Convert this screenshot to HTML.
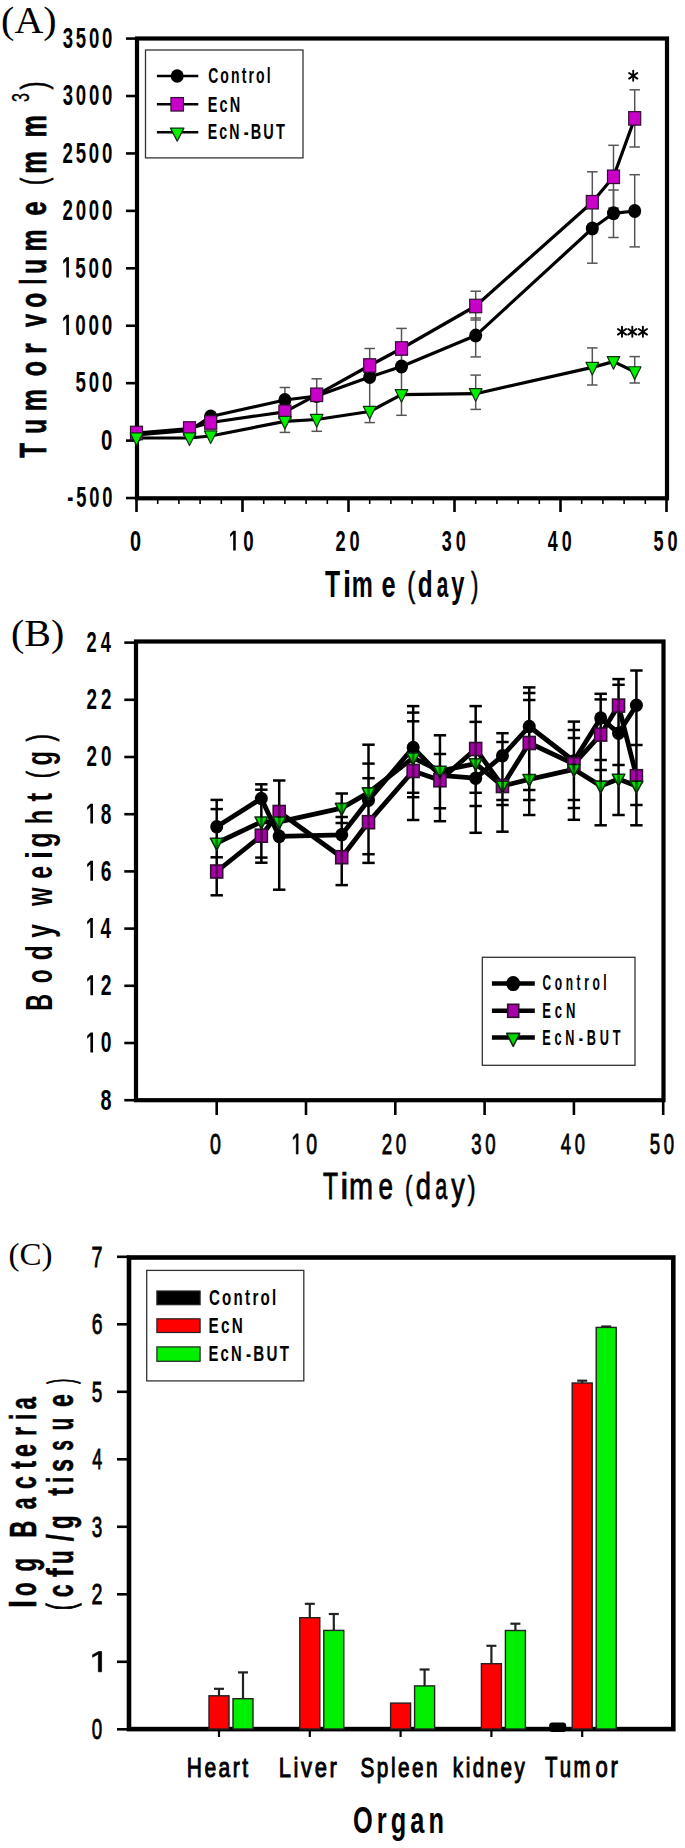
<!DOCTYPE html><html><head><meta charset="utf-8"><style>html,body{margin:0;padding:0;background:#fff;}svg{display:block;}text{font-kerning:none;}</style></head><body>
<svg width="685" height="1848" viewBox="0 0 685 1848">
<rect width="685" height="1848" fill="#fff"/>
<rect x="137" y="38.5" width="530" height="459.8" fill="none" stroke="#000" stroke-width="4.2"/>
<line x1="126.00" y1="498.03" x2="137.00" y2="498.03" stroke="#000" stroke-width="2.60" stroke-linecap="butt"/>
<text transform="translate(67.37 507.23) scale(0.6238 1)" style='font-family:"Liberation Sans", sans-serif;font-weight:bold;font-size:29.42px;letter-spacing:4.41px' fill="#000">-500</text>
<line x1="126.00" y1="440.60" x2="137.00" y2="440.60" stroke="#000" stroke-width="2.60" stroke-linecap="butt"/>
<text transform="translate(101.08 449.80) scale(0.6941 1)" style='font-family:"Liberation Sans", sans-serif;font-weight:bold;font-size:29.42px;letter-spacing:4.41px' fill="#000">0</text>
<line x1="126.00" y1="383.17" x2="137.00" y2="383.17" stroke="#000" stroke-width="2.60" stroke-linecap="butt"/>
<text transform="translate(75.54 392.37) scale(0.6360 1)" style='font-family:"Liberation Sans", sans-serif;font-weight:bold;font-size:29.42px;letter-spacing:4.41px' fill="#000">500</text>
<line x1="126.00" y1="325.74" x2="137.00" y2="325.74" stroke="#000" stroke-width="2.60" stroke-linecap="butt"/>
<g transform="translate(61.91 334.94) scale(0.6413 1)" fill="#000"><text style='font-family:"Liberation Sans", sans-serif;font-weight:bold;font-size:29.42px;letter-spacing:4.41px'> 000</text><path transform="translate(0.000 0) scale(0.01437 -0.01437)" d="M478 0V1170L140 959V1180L493 1409H759V0Z"/></g>
<line x1="126.00" y1="268.31" x2="137.00" y2="268.31" stroke="#000" stroke-width="2.60" stroke-linecap="butt"/>
<g transform="translate(61.91 277.51) scale(0.6413 1)" fill="#000"><text style='font-family:"Liberation Sans", sans-serif;font-weight:bold;font-size:29.42px;letter-spacing:4.41px'> 500</text><path transform="translate(0.000 0) scale(0.01437 -0.01437)" d="M478 0V1170L140 959V1180L493 1409H759V0Z"/></g>
<line x1="126.00" y1="210.88" x2="137.00" y2="210.88" stroke="#000" stroke-width="2.60" stroke-linecap="butt"/>
<text transform="translate(62.55 220.08) scale(0.6331 1)" style='font-family:"Liberation Sans", sans-serif;font-weight:bold;font-size:29.42px;letter-spacing:4.41px' fill="#000">2000</text>
<line x1="126.00" y1="153.45" x2="137.00" y2="153.45" stroke="#000" stroke-width="2.60" stroke-linecap="butt"/>
<text transform="translate(62.55 162.65) scale(0.6331 1)" style='font-family:"Liberation Sans", sans-serif;font-weight:bold;font-size:29.42px;letter-spacing:4.41px' fill="#000">2500</text>
<line x1="126.00" y1="96.02" x2="137.00" y2="96.02" stroke="#000" stroke-width="2.60" stroke-linecap="butt"/>
<text transform="translate(62.74 105.22) scale(0.6307 1)" style='font-family:"Liberation Sans", sans-serif;font-weight:bold;font-size:29.42px;letter-spacing:4.41px' fill="#000">3000</text>
<line x1="126.00" y1="38.59" x2="137.00" y2="38.59" stroke="#000" stroke-width="2.60" stroke-linecap="butt"/>
<text transform="translate(62.74 47.79) scale(0.6307 1)" style='font-family:"Liberation Sans", sans-serif;font-weight:bold;font-size:29.42px;letter-spacing:4.41px' fill="#000">3500</text>
<line x1="136.50" y1="498.00" x2="136.50" y2="512.00" stroke="#000" stroke-width="2.60" stroke-linecap="butt"/>
<line x1="157.70" y1="498.00" x2="157.70" y2="504.00" stroke="#000" stroke-width="1.60" stroke-linecap="butt"/>
<line x1="178.90" y1="498.00" x2="178.90" y2="504.00" stroke="#000" stroke-width="1.60" stroke-linecap="butt"/>
<line x1="200.10" y1="498.00" x2="200.10" y2="504.00" stroke="#000" stroke-width="1.60" stroke-linecap="butt"/>
<line x1="221.30" y1="498.00" x2="221.30" y2="504.00" stroke="#000" stroke-width="1.60" stroke-linecap="butt"/>
<line x1="242.50" y1="498.00" x2="242.50" y2="512.00" stroke="#000" stroke-width="2.60" stroke-linecap="butt"/>
<line x1="263.70" y1="498.00" x2="263.70" y2="504.00" stroke="#000" stroke-width="1.60" stroke-linecap="butt"/>
<line x1="284.90" y1="498.00" x2="284.90" y2="504.00" stroke="#000" stroke-width="1.60" stroke-linecap="butt"/>
<line x1="306.10" y1="498.00" x2="306.10" y2="504.00" stroke="#000" stroke-width="1.60" stroke-linecap="butt"/>
<line x1="327.30" y1="498.00" x2="327.30" y2="504.00" stroke="#000" stroke-width="1.60" stroke-linecap="butt"/>
<line x1="348.50" y1="498.00" x2="348.50" y2="512.00" stroke="#000" stroke-width="2.60" stroke-linecap="butt"/>
<line x1="369.70" y1="498.00" x2="369.70" y2="504.00" stroke="#000" stroke-width="1.60" stroke-linecap="butt"/>
<line x1="390.90" y1="498.00" x2="390.90" y2="504.00" stroke="#000" stroke-width="1.60" stroke-linecap="butt"/>
<line x1="412.10" y1="498.00" x2="412.10" y2="504.00" stroke="#000" stroke-width="1.60" stroke-linecap="butt"/>
<line x1="433.30" y1="498.00" x2="433.30" y2="504.00" stroke="#000" stroke-width="1.60" stroke-linecap="butt"/>
<line x1="454.50" y1="498.00" x2="454.50" y2="512.00" stroke="#000" stroke-width="2.60" stroke-linecap="butt"/>
<line x1="475.70" y1="498.00" x2="475.70" y2="504.00" stroke="#000" stroke-width="1.60" stroke-linecap="butt"/>
<line x1="496.90" y1="498.00" x2="496.90" y2="504.00" stroke="#000" stroke-width="1.60" stroke-linecap="butt"/>
<line x1="518.10" y1="498.00" x2="518.10" y2="504.00" stroke="#000" stroke-width="1.60" stroke-linecap="butt"/>
<line x1="539.30" y1="498.00" x2="539.30" y2="504.00" stroke="#000" stroke-width="1.60" stroke-linecap="butt"/>
<line x1="560.50" y1="498.00" x2="560.50" y2="512.00" stroke="#000" stroke-width="2.60" stroke-linecap="butt"/>
<line x1="581.70" y1="498.00" x2="581.70" y2="504.00" stroke="#000" stroke-width="1.60" stroke-linecap="butt"/>
<line x1="602.90" y1="498.00" x2="602.90" y2="504.00" stroke="#000" stroke-width="1.60" stroke-linecap="butt"/>
<line x1="624.10" y1="498.00" x2="624.10" y2="504.00" stroke="#000" stroke-width="1.60" stroke-linecap="butt"/>
<line x1="645.30" y1="498.00" x2="645.30" y2="504.00" stroke="#000" stroke-width="1.60" stroke-linecap="butt"/>
<line x1="666.50" y1="498.00" x2="666.50" y2="512.00" stroke="#000" stroke-width="2.60" stroke-linecap="butt"/>
<text transform="translate(130.01 550.60) scale(0.6827 1)" style='font-family:"Liberation Sans", sans-serif;font-weight:bold;font-size:28.99px;letter-spacing:6.38px' fill="#000">0</text>
<g transform="translate(228.83 550.60) scale(0.6433 1)" fill="#000"><text style='font-family:"Liberation Sans", sans-serif;font-weight:bold;font-size:28.99px;letter-spacing:6.38px'> 0</text><path transform="translate(0.000 0) scale(0.01415 -0.01415)" d="M478 0V1170L140 959V1180L493 1409H759V0Z"/></g>
<text transform="translate(335.46 550.60) scale(0.6262 1)" style='font-family:"Liberation Sans", sans-serif;font-weight:bold;font-size:28.99px;letter-spacing:6.38px' fill="#000">20</text>
<text transform="translate(441.65 550.60) scale(0.6212 1)" style='font-family:"Liberation Sans", sans-serif;font-weight:bold;font-size:28.99px;letter-spacing:6.38px' fill="#000">30</text>
<text transform="translate(547.83 550.60) scale(0.6164 1)" style='font-family:"Liberation Sans", sans-serif;font-weight:bold;font-size:28.99px;letter-spacing:6.38px' fill="#000">40</text>
<text transform="translate(653.56 550.60) scale(0.6237 1)" style='font-family:"Liberation Sans", sans-serif;font-weight:bold;font-size:28.99px;letter-spacing:6.38px' fill="#000">50</text>
<text transform="translate(325.05 596.50) scale(0.6688 1)" style='font-family:"Liberation Sans", sans-serif;font-weight:bold;font-size:37.00px;letter-spacing:0.00px' fill="#000">T</text>
<text transform="translate(343.05 596.50) scale(0.7915 1)" style='font-family:"Liberation Sans", sans-serif;font-weight:bold;font-size:37.00px;letter-spacing:0.00px' fill="#000">i</text>
<text transform="translate(351.76 596.50) scale(0.6395 1)" style='font-family:"Liberation Sans", sans-serif;font-weight:bold;font-size:37.00px;letter-spacing:0.00px' fill="#000">m</text>
<text transform="translate(381.48 596.50) scale(0.6869 1)" style='font-family:"Liberation Sans", sans-serif;font-weight:bold;font-size:37.00px;letter-spacing:0.00px' fill="#000">e</text>
<text transform="translate(407.35 596.50) scale(0.6940 1)" style='font-family:"Liberation Sans", sans-serif;font-weight:normal;font-size:34.80px;letter-spacing:0.00px' fill="#000" stroke="#000" stroke-width="0.50" vector-effect="non-scaling-stroke">(</text>
<text transform="translate(417.73 596.50) scale(0.6583 1)" style='font-family:"Liberation Sans", sans-serif;font-weight:bold;font-size:37.00px;letter-spacing:0.00px' fill="#000">d</text>
<text transform="translate(436.78 596.50) scale(0.5607 1)" style='font-family:"Liberation Sans", sans-serif;font-weight:bold;font-size:37.00px;letter-spacing:0.00px' fill="#000">a</text>
<text transform="translate(451.16 596.50) scale(0.6406 1)" style='font-family:"Liberation Sans", sans-serif;font-weight:bold;font-size:37.00px;letter-spacing:0.00px' fill="#000">y</text>
<text transform="translate(471.09 596.50) scale(0.6398 1)" style='font-family:"Liberation Sans", sans-serif;font-weight:normal;font-size:34.80px;letter-spacing:0.00px' fill="#000" stroke="#000" stroke-width="0.50" vector-effect="non-scaling-stroke">)</text>
<text transform="translate(45.70 457.64) rotate(-90) scale(0.6446 1)" style='font-family:"Liberation Sans", sans-serif;font-weight:bold;font-size:37.60px;letter-spacing:0.00px' fill="#000" stroke="#000" stroke-width="0.60" vector-effect="non-scaling-stroke">T</text>
<text transform="translate(45.70 433.65) rotate(-90) scale(0.6416 1)" style='font-family:"Liberation Sans", sans-serif;font-weight:bold;font-size:37.60px;letter-spacing:0.00px' fill="#000" stroke="#000" stroke-width="0.60" vector-effect="non-scaling-stroke">u</text>
<text transform="translate(45.70 411.21) rotate(-90) scale(0.6605 1)" style='font-family:"Liberation Sans", sans-serif;font-weight:bold;font-size:37.60px;letter-spacing:0.00px' fill="#000" stroke="#000" stroke-width="0.60" vector-effect="non-scaling-stroke">m</text>
<text transform="translate(45.70 376.20) rotate(-90) scale(0.6624 1)" style='font-family:"Liberation Sans", sans-serif;font-weight:bold;font-size:37.60px;letter-spacing:0.00px' fill="#000" stroke="#000" stroke-width="0.60" vector-effect="non-scaling-stroke">o</text>
<text transform="translate(45.70 353.96) rotate(-90) scale(0.7207 1)" style='font-family:"Liberation Sans", sans-serif;font-weight:bold;font-size:37.60px;letter-spacing:0.00px' fill="#000" stroke="#000" stroke-width="0.60" vector-effect="non-scaling-stroke">r</text>
<text transform="translate(45.70 327.12) rotate(-90) scale(0.6246 1)" style='font-family:"Liberation Sans", sans-serif;font-weight:bold;font-size:37.60px;letter-spacing:0.00px' fill="#000" stroke="#000" stroke-width="0.60" vector-effect="non-scaling-stroke">v</text>
<text transform="translate(45.70 307.69) rotate(-90) scale(0.6574 1)" style='font-family:"Liberation Sans", sans-serif;font-weight:bold;font-size:37.60px;letter-spacing:0.00px' fill="#000" stroke="#000" stroke-width="0.60" vector-effect="non-scaling-stroke">o</text>
<text transform="translate(45.70 284.45) rotate(-90) scale(0.5509 1)" style='font-family:"Liberation Sans", sans-serif;font-weight:bold;font-size:37.60px;letter-spacing:0.00px' fill="#000" stroke="#000" stroke-width="0.60" vector-effect="non-scaling-stroke">l</text>
<text transform="translate(45.70 273.85) rotate(-90) scale(0.6416 1)" style='font-family:"Liberation Sans", sans-serif;font-weight:bold;font-size:37.60px;letter-spacing:0.00px' fill="#000" stroke="#000" stroke-width="0.60" vector-effect="non-scaling-stroke">u</text>
<text transform="translate(45.70 251.41) rotate(-90) scale(0.6605 1)" style='font-family:"Liberation Sans", sans-serif;font-weight:bold;font-size:37.60px;letter-spacing:0.00px' fill="#000" stroke="#000" stroke-width="0.60" vector-effect="non-scaling-stroke">m</text>
<text transform="translate(45.70 215.73) rotate(-90) scale(0.6871 1)" style='font-family:"Liberation Sans", sans-serif;font-weight:bold;font-size:37.60px;letter-spacing:0.00px' fill="#000" stroke="#000" stroke-width="0.60" vector-effect="non-scaling-stroke">e</text>
<text transform="translate(45.70 184.91) rotate(-90) scale(0.6131 1)" style='font-family:"Liberation Sans", sans-serif;font-weight:normal;font-size:35.70px;letter-spacing:0.00px' fill="#000" stroke="#000" stroke-width="0.60" vector-effect="non-scaling-stroke">(</text>
<text transform="translate(45.70 173.65) rotate(-90) scale(0.6745 1)" style='font-family:"Liberation Sans", sans-serif;font-weight:bold;font-size:37.60px;letter-spacing:0.00px' fill="#000" stroke="#000" stroke-width="0.60" vector-effect="non-scaling-stroke">m</text>
<text transform="translate(45.70 137.54) rotate(-90) scale(0.6710 1)" style='font-family:"Liberation Sans", sans-serif;font-weight:bold;font-size:37.60px;letter-spacing:0.00px' fill="#000" stroke="#000" stroke-width="0.60" vector-effect="non-scaling-stroke">m</text>
<text transform="translate(29.10 101.94) rotate(-90) scale(0.6478 1)" style='font-family:"Liberation Sans", sans-serif;font-weight:normal;font-size:24.70px;letter-spacing:0.00px' fill="#000" stroke="#000" stroke-width="0.30" vector-effect="non-scaling-stroke">3</text>
<text transform="translate(45.70 89.42) rotate(-90) scale(0.6765 1)" style='font-family:"Liberation Sans", sans-serif;font-weight:normal;font-size:35.70px;letter-spacing:0.00px' fill="#000" stroke="#000" stroke-width="0.60" vector-effect="non-scaling-stroke">)</text>
<text transform="translate(1.10 33.30) scale(1.0302 1)" style='font-family:"Liberation Serif", serif;font-weight:normal;font-size:38.82px;letter-spacing:0.00px' fill="#000">(A)</text>
<line x1="284.90" y1="387.50" x2="284.90" y2="432.40" stroke="#555" stroke-width="1.50" stroke-linecap="butt"/>
<line x1="279.65" y1="387.50" x2="290.15" y2="387.50" stroke="#555" stroke-width="1.50" stroke-linecap="butt"/>
<line x1="279.65" y1="432.40" x2="290.15" y2="432.40" stroke="#555" stroke-width="1.50" stroke-linecap="butt"/>
<line x1="316.70" y1="378.80" x2="316.70" y2="431.30" stroke="#555" stroke-width="1.50" stroke-linecap="butt"/>
<line x1="311.45" y1="378.80" x2="321.95" y2="378.80" stroke="#555" stroke-width="1.50" stroke-linecap="butt"/>
<line x1="311.45" y1="431.30" x2="321.95" y2="431.30" stroke="#555" stroke-width="1.50" stroke-linecap="butt"/>
<line x1="369.70" y1="348.50" x2="369.70" y2="422.60" stroke="#555" stroke-width="1.50" stroke-linecap="butt"/>
<line x1="364.45" y1="348.50" x2="374.95" y2="348.50" stroke="#555" stroke-width="1.50" stroke-linecap="butt"/>
<line x1="364.45" y1="422.60" x2="374.95" y2="422.60" stroke="#555" stroke-width="1.50" stroke-linecap="butt"/>
<line x1="401.50" y1="328.40" x2="401.50" y2="415.30" stroke="#555" stroke-width="1.50" stroke-linecap="butt"/>
<line x1="396.25" y1="328.40" x2="406.75" y2="328.40" stroke="#555" stroke-width="1.50" stroke-linecap="butt"/>
<line x1="396.25" y1="415.30" x2="406.75" y2="415.30" stroke="#555" stroke-width="1.50" stroke-linecap="butt"/>
<line x1="475.70" y1="291.20" x2="475.70" y2="320.00" stroke="#555" stroke-width="1.50" stroke-linecap="butt"/>
<line x1="470.45" y1="291.20" x2="480.95" y2="291.20" stroke="#555" stroke-width="1.50" stroke-linecap="butt"/>
<line x1="470.45" y1="320.00" x2="480.95" y2="320.00" stroke="#555" stroke-width="1.50" stroke-linecap="butt"/>
<line x1="475.70" y1="318.00" x2="475.70" y2="356.90" stroke="#555" stroke-width="1.50" stroke-linecap="butt"/>
<line x1="470.45" y1="318.00" x2="480.95" y2="318.00" stroke="#555" stroke-width="1.50" stroke-linecap="butt"/>
<line x1="470.45" y1="356.90" x2="480.95" y2="356.90" stroke="#555" stroke-width="1.50" stroke-linecap="butt"/>
<line x1="475.70" y1="375.10" x2="475.70" y2="409.40" stroke="#555" stroke-width="1.50" stroke-linecap="butt"/>
<line x1="470.45" y1="375.10" x2="480.95" y2="375.10" stroke="#555" stroke-width="1.50" stroke-linecap="butt"/>
<line x1="470.45" y1="409.40" x2="480.95" y2="409.40" stroke="#555" stroke-width="1.50" stroke-linecap="butt"/>
<line x1="592.30" y1="171.80" x2="592.30" y2="232.00" stroke="#555" stroke-width="1.50" stroke-linecap="butt"/>
<line x1="587.05" y1="171.80" x2="597.55" y2="171.80" stroke="#555" stroke-width="1.50" stroke-linecap="butt"/>
<line x1="587.05" y1="232.00" x2="597.55" y2="232.00" stroke="#555" stroke-width="1.50" stroke-linecap="butt"/>
<line x1="592.30" y1="200.00" x2="592.30" y2="263.20" stroke="#555" stroke-width="1.50" stroke-linecap="butt"/>
<line x1="587.05" y1="200.00" x2="597.55" y2="200.00" stroke="#555" stroke-width="1.50" stroke-linecap="butt"/>
<line x1="587.05" y1="263.20" x2="597.55" y2="263.20" stroke="#555" stroke-width="1.50" stroke-linecap="butt"/>
<line x1="592.30" y1="347.90" x2="592.30" y2="385.00" stroke="#555" stroke-width="1.50" stroke-linecap="butt"/>
<line x1="587.05" y1="347.90" x2="597.55" y2="347.90" stroke="#555" stroke-width="1.50" stroke-linecap="butt"/>
<line x1="587.05" y1="385.00" x2="597.55" y2="385.00" stroke="#555" stroke-width="1.50" stroke-linecap="butt"/>
<line x1="613.50" y1="145.30" x2="613.50" y2="208.00" stroke="#555" stroke-width="1.50" stroke-linecap="butt"/>
<line x1="608.25" y1="145.30" x2="618.75" y2="145.30" stroke="#555" stroke-width="1.50" stroke-linecap="butt"/>
<line x1="608.25" y1="208.00" x2="618.75" y2="208.00" stroke="#555" stroke-width="1.50" stroke-linecap="butt"/>
<line x1="613.50" y1="190.00" x2="613.50" y2="237.50" stroke="#555" stroke-width="1.50" stroke-linecap="butt"/>
<line x1="608.25" y1="190.00" x2="618.75" y2="190.00" stroke="#555" stroke-width="1.50" stroke-linecap="butt"/>
<line x1="608.25" y1="237.50" x2="618.75" y2="237.50" stroke="#555" stroke-width="1.50" stroke-linecap="butt"/>
<line x1="634.70" y1="89.80" x2="634.70" y2="147.00" stroke="#555" stroke-width="1.50" stroke-linecap="butt"/>
<line x1="629.45" y1="89.80" x2="639.95" y2="89.80" stroke="#555" stroke-width="1.50" stroke-linecap="butt"/>
<line x1="629.45" y1="147.00" x2="639.95" y2="147.00" stroke="#555" stroke-width="1.50" stroke-linecap="butt"/>
<line x1="634.70" y1="174.70" x2="634.70" y2="246.90" stroke="#555" stroke-width="1.50" stroke-linecap="butt"/>
<line x1="629.45" y1="174.70" x2="639.95" y2="174.70" stroke="#555" stroke-width="1.50" stroke-linecap="butt"/>
<line x1="629.45" y1="246.90" x2="639.95" y2="246.90" stroke="#555" stroke-width="1.50" stroke-linecap="butt"/>
<line x1="634.70" y1="356.60" x2="634.70" y2="383.00" stroke="#555" stroke-width="1.50" stroke-linecap="butt"/>
<line x1="629.45" y1="356.60" x2="639.95" y2="356.60" stroke="#555" stroke-width="1.50" stroke-linecap="butt"/>
<line x1="629.45" y1="383.00" x2="639.95" y2="383.00" stroke="#555" stroke-width="1.50" stroke-linecap="butt"/>
<polyline points="136.50,435.00 189.50,430.50 210.70,416.50 284.90,400.00 316.70,396.00 369.70,377.00 401.50,366.50 475.70,335.60 592.30,228.50 613.50,213.30 634.70,211.00" fill="none" stroke="#000" stroke-width="3.20" stroke-linejoin="round" stroke-linecap="round"/>
<polyline points="136.50,433.00 189.50,428.50 210.70,422.50 284.90,411.80 316.70,394.80 369.70,365.50 401.50,348.50 475.70,306.00 592.30,202.20 613.50,176.80 634.70,118.40" fill="none" stroke="#000" stroke-width="3.20" stroke-linejoin="round" stroke-linecap="round"/>
<polyline points="136.50,438.00 189.50,438.00 210.70,436.00 284.90,421.40 316.70,419.50 369.70,411.50 401.50,394.70 475.70,393.70 592.30,367.40 613.50,361.60 634.70,371.80" fill="none" stroke="#000" stroke-width="3.20" stroke-linejoin="round" stroke-linecap="round"/>
<ellipse cx="136.50" cy="435.00" rx="6.50" ry="7.00" fill="#000"/>
<ellipse cx="189.50" cy="430.50" rx="6.50" ry="7.00" fill="#000"/>
<ellipse cx="210.70" cy="416.50" rx="6.50" ry="7.00" fill="#000"/>
<ellipse cx="284.90" cy="400.00" rx="6.50" ry="7.00" fill="#000"/>
<ellipse cx="316.70" cy="396.00" rx="6.50" ry="7.00" fill="#000"/>
<ellipse cx="369.70" cy="377.00" rx="6.50" ry="7.00" fill="#000"/>
<ellipse cx="401.50" cy="366.50" rx="6.50" ry="7.00" fill="#000"/>
<ellipse cx="475.70" cy="335.60" rx="6.50" ry="7.00" fill="#000"/>
<ellipse cx="592.30" cy="228.50" rx="6.50" ry="7.00" fill="#000"/>
<ellipse cx="613.50" cy="213.30" rx="6.50" ry="7.00" fill="#000"/>
<ellipse cx="634.70" cy="211.00" rx="6.50" ry="7.00" fill="#000"/>
<rect x="130.50" y="426.25" width="12.00" height="13.50" fill="#c800c8" stroke="#301030" stroke-width="1.20"/>
<rect x="183.50" y="421.75" width="12.00" height="13.50" fill="#c800c8" stroke="#301030" stroke-width="1.20"/>
<rect x="204.70" y="415.75" width="12.00" height="13.50" fill="#c800c8" stroke="#301030" stroke-width="1.20"/>
<rect x="278.90" y="405.05" width="12.00" height="13.50" fill="#c800c8" stroke="#301030" stroke-width="1.20"/>
<rect x="310.70" y="388.05" width="12.00" height="13.50" fill="#c800c8" stroke="#301030" stroke-width="1.20"/>
<rect x="363.70" y="358.75" width="12.00" height="13.50" fill="#c800c8" stroke="#301030" stroke-width="1.20"/>
<rect x="395.50" y="341.75" width="12.00" height="13.50" fill="#c800c8" stroke="#301030" stroke-width="1.20"/>
<rect x="469.70" y="299.25" width="12.00" height="13.50" fill="#c800c8" stroke="#301030" stroke-width="1.20"/>
<rect x="586.30" y="195.45" width="12.00" height="13.50" fill="#c800c8" stroke="#301030" stroke-width="1.20"/>
<rect x="607.50" y="170.05" width="12.00" height="13.50" fill="#c800c8" stroke="#301030" stroke-width="1.20"/>
<rect x="628.70" y="111.65" width="12.00" height="13.50" fill="#c800c8" stroke="#301030" stroke-width="1.20"/>
<polygon points="130.20,432.96 142.80,432.96 136.50,445.56" fill="#00f000" stroke="#103010" stroke-width="1.20" stroke-linejoin="round"/>
<polygon points="183.20,432.96 195.80,432.96 189.50,445.56" fill="#00f000" stroke="#103010" stroke-width="1.20" stroke-linejoin="round"/>
<polygon points="204.40,430.96 217.00,430.96 210.70,443.56" fill="#00f000" stroke="#103010" stroke-width="1.20" stroke-linejoin="round"/>
<polygon points="278.60,416.36 291.20,416.36 284.90,428.96" fill="#00f000" stroke="#103010" stroke-width="1.20" stroke-linejoin="round"/>
<polygon points="310.40,414.46 323.00,414.46 316.70,427.06" fill="#00f000" stroke="#103010" stroke-width="1.20" stroke-linejoin="round"/>
<polygon points="363.40,406.46 376.00,406.46 369.70,419.06" fill="#00f000" stroke="#103010" stroke-width="1.20" stroke-linejoin="round"/>
<polygon points="395.20,389.66 407.80,389.66 401.50,402.26" fill="#00f000" stroke="#103010" stroke-width="1.20" stroke-linejoin="round"/>
<polygon points="469.40,388.66 482.00,388.66 475.70,401.26" fill="#00f000" stroke="#103010" stroke-width="1.20" stroke-linejoin="round"/>
<polygon points="586.00,362.36 598.60,362.36 592.30,374.96" fill="#00f000" stroke="#103010" stroke-width="1.20" stroke-linejoin="round"/>
<polygon points="607.20,356.56 619.80,356.56 613.50,369.16" fill="#00f000" stroke="#103010" stroke-width="1.20" stroke-linejoin="round"/>
<polygon points="628.40,366.76 641.00,366.76 634.70,379.36" fill="#00f000" stroke="#103010" stroke-width="1.20" stroke-linejoin="round"/>
<g stroke="#000" stroke-width="1.90" stroke-linecap="round">
<line x1="633.20" y1="70.80" x2="633.20" y2="80.80" stroke="#000" stroke-width="1.90" stroke-linecap="round"/>
<line x1="629.10" y1="73.00" x2="637.30" y2="78.60" stroke="#000" stroke-width="1.90" stroke-linecap="round"/>
<line x1="629.10" y1="78.60" x2="637.30" y2="73.00" stroke="#000" stroke-width="1.90" stroke-linecap="round"/>
</g>
<g stroke="#000" stroke-width="1.90" stroke-linecap="round">
<line x1="622.00" y1="326.80" x2="622.00" y2="336.80" stroke="#000" stroke-width="1.90" stroke-linecap="round"/>
<line x1="617.90" y1="329.00" x2="626.10" y2="334.60" stroke="#000" stroke-width="1.90" stroke-linecap="round"/>
<line x1="617.90" y1="334.60" x2="626.10" y2="329.00" stroke="#000" stroke-width="1.90" stroke-linecap="round"/>
</g>
<g stroke="#000" stroke-width="1.90" stroke-linecap="round">
<line x1="632.30" y1="326.80" x2="632.30" y2="336.80" stroke="#000" stroke-width="1.90" stroke-linecap="round"/>
<line x1="628.20" y1="329.00" x2="636.40" y2="334.60" stroke="#000" stroke-width="1.90" stroke-linecap="round"/>
<line x1="628.20" y1="334.60" x2="636.40" y2="329.00" stroke="#000" stroke-width="1.90" stroke-linecap="round"/>
</g>
<g stroke="#000" stroke-width="1.90" stroke-linecap="round">
<line x1="642.90" y1="326.80" x2="642.90" y2="336.80" stroke="#000" stroke-width="1.90" stroke-linecap="round"/>
<line x1="638.80" y1="329.00" x2="647.00" y2="334.60" stroke="#000" stroke-width="1.90" stroke-linecap="round"/>
<line x1="638.80" y1="334.60" x2="647.00" y2="329.00" stroke="#000" stroke-width="1.90" stroke-linecap="round"/>
</g>
<rect x="145.50" y="50.00" width="157.50" height="107.90" fill="#fff" stroke="#333" stroke-width="1.30"/>
<line x1="156.90" y1="76.00" x2="198.30" y2="76.00" stroke="#000" stroke-width="2.60" stroke-linecap="butt"/>
<ellipse cx="177.20" cy="76.00" rx="6.50" ry="6.75" fill="#000"/>
<text transform="translate(208.14 82.70) scale(0.6488 1)" style='font-family:"Liberation Sans", sans-serif;font-weight:bold;font-size:21.59px;letter-spacing:3.24px' fill="#000">Control</text>
<line x1="156.90" y1="104.30" x2="198.30" y2="104.30" stroke="#000" stroke-width="2.60" stroke-linecap="butt"/>
<rect x="170.95" y="97.55" width="12.50" height="13.50" fill="#c800c8" stroke="#301030" stroke-width="1.20"/>
<text transform="translate(207.76 111.50) scale(0.6706 1)" style='font-family:"Liberation Sans", sans-serif;font-weight:bold;font-size:21.59px;letter-spacing:3.24px' fill="#000">EcN</text>
<line x1="156.90" y1="132.30" x2="198.30" y2="132.30" stroke="#000" stroke-width="2.60" stroke-linecap="butt"/>
<polygon points="170.45,128.10 183.95,128.10 177.20,141.10" fill="#00f000" stroke="#103010" stroke-width="1.20" stroke-linejoin="round"/>
<text transform="translate(207.78 139.30) scale(0.6562 1)" style='font-family:"Liberation Sans", sans-serif;font-weight:bold;font-size:21.59px;letter-spacing:3.24px' fill="#000">EcN</text>
<text transform="translate(243.69 139.30) scale(0.6717 1)" style='font-family:"Liberation Sans", sans-serif;font-weight:bold;font-size:21.59px;letter-spacing:3.24px' fill="#000">-BUT</text>
<rect x="136" y="641.5" width="527.5" height="458.7" fill="none" stroke="#000" stroke-width="4.2"/>
<line x1="124.30" y1="1100.20" x2="136.00" y2="1100.20" stroke="#000" stroke-width="2.60" stroke-linecap="butt"/>
<text transform="translate(100.41 1109.60) scale(0.6830 1)" style='font-family:"Liberation Sans", sans-serif;font-weight:bold;font-size:28.99px;letter-spacing:6.38px' fill="#000">8</text>
<line x1="124.30" y1="1043.00" x2="136.00" y2="1043.00" stroke="#000" stroke-width="2.60" stroke-linecap="butt"/>
<g transform="translate(85.88 1052.40) scale(0.6658 1)" fill="#000"><text style='font-family:"Liberation Sans", sans-serif;font-weight:bold;font-size:28.99px;letter-spacing:6.38px'> 0</text><path transform="translate(0.000 0) scale(0.01415 -0.01415)" d="M478 0V1170L140 959V1180L493 1409H759V0Z"/></g>
<line x1="124.30" y1="985.80" x2="136.00" y2="985.80" stroke="#000" stroke-width="2.60" stroke-linecap="butt"/>
<g transform="translate(85.88 995.20) scale(0.6658 1)" fill="#000"><text style='font-family:"Liberation Sans", sans-serif;font-weight:bold;font-size:28.99px;letter-spacing:6.38px'> 2</text><path transform="translate(0.000 0) scale(0.01415 -0.01415)" d="M478 0V1170L140 959V1180L493 1409H759V0Z"/></g>
<line x1="124.30" y1="928.60" x2="136.00" y2="928.60" stroke="#000" stroke-width="2.60" stroke-linecap="butt"/>
<g transform="translate(85.92 938.00) scale(0.6473 1)" fill="#000"><text style='font-family:"Liberation Sans", sans-serif;font-weight:bold;font-size:28.99px;letter-spacing:6.38px'> 4</text><path transform="translate(0.000 0) scale(0.01415 -0.01415)" d="M478 0V1170L140 959V1180L493 1409H759V0Z"/></g>
<line x1="124.30" y1="871.40" x2="136.00" y2="871.40" stroke="#000" stroke-width="2.60" stroke-linecap="butt"/>
<g transform="translate(85.89 880.80) scale(0.6631 1)" fill="#000"><text style='font-family:"Liberation Sans", sans-serif;font-weight:bold;font-size:28.99px;letter-spacing:6.38px'> 6</text><path transform="translate(0.000 0) scale(0.01415 -0.01415)" d="M478 0V1170L140 959V1180L493 1409H759V0Z"/></g>
<line x1="124.30" y1="814.20" x2="136.00" y2="814.20" stroke="#000" stroke-width="2.60" stroke-linecap="butt"/>
<g transform="translate(85.89 823.60) scale(0.6604 1)" fill="#000"><text style='font-family:"Liberation Sans", sans-serif;font-weight:bold;font-size:28.99px;letter-spacing:6.38px'> 8</text><path transform="translate(0.000 0) scale(0.01415 -0.01415)" d="M478 0V1170L140 959V1180L493 1409H759V0Z"/></g>
<line x1="124.30" y1="757.00" x2="136.00" y2="757.00" stroke="#000" stroke-width="2.60" stroke-linecap="butt"/>
<text transform="translate(86.54 766.40) scale(0.6482 1)" style='font-family:"Liberation Sans", sans-serif;font-weight:bold;font-size:28.99px;letter-spacing:6.38px' fill="#000">20</text>
<line x1="124.30" y1="699.80" x2="136.00" y2="699.80" stroke="#000" stroke-width="2.60" stroke-linecap="butt"/>
<text transform="translate(86.54 709.20) scale(0.6482 1)" style='font-family:"Liberation Sans", sans-serif;font-weight:bold;font-size:28.99px;letter-spacing:6.38px' fill="#000">22</text>
<line x1="124.30" y1="642.60" x2="136.00" y2="642.60" stroke="#000" stroke-width="2.60" stroke-linecap="butt"/>
<text transform="translate(86.56 652.00) scale(0.6306 1)" style='font-family:"Liberation Sans", sans-serif;font-weight:bold;font-size:28.99px;letter-spacing:6.38px' fill="#000">24</text>
<line x1="216.70" y1="1100.00" x2="216.70" y2="1115.00" stroke="#000" stroke-width="2.60" stroke-linecap="butt"/>
<text transform="translate(210.02 1154.00) scale(0.6689 1)" style='font-family:"Liberation Sans", sans-serif;font-weight:normal;font-size:29.28px;letter-spacing:5.86px' fill="#000" stroke="#000" stroke-width="0.70" vector-effect="non-scaling-stroke">0</text>
<line x1="306.00" y1="1100.00" x2="306.00" y2="1115.00" stroke="#000" stroke-width="2.60" stroke-linecap="butt"/>
<g transform="translate(291.43 1154.00) scale(0.6658 1)" fill="#000"><text style='font-family:"Liberation Sans", sans-serif;font-weight:normal;font-size:29.28px;letter-spacing:5.86px' stroke="#000" stroke-width="0.70" vector-effect="non-scaling-stroke"> 0</text><path transform="translate(0.000 0) scale(0.01429 -0.01429)" d="M515 0V1237L197 1010V1180L530 1409H696V0Z" stroke="#000" stroke-width="0.70" vector-effect="non-scaling-stroke"/></g>
<line x1="395.30" y1="1100.00" x2="395.30" y2="1115.00" stroke="#000" stroke-width="2.60" stroke-linecap="butt"/>
<text transform="translate(381.66 1154.00) scale(0.6407 1)" style='font-family:"Liberation Sans", sans-serif;font-weight:normal;font-size:29.28px;letter-spacing:5.86px' fill="#000" stroke="#000" stroke-width="0.70" vector-effect="non-scaling-stroke">20</text>
<line x1="484.60" y1="1100.00" x2="484.60" y2="1115.00" stroke="#000" stroke-width="2.60" stroke-linecap="butt"/>
<text transform="translate(471.16 1154.00) scale(0.6355 1)" style='font-family:"Liberation Sans", sans-serif;font-weight:normal;font-size:29.28px;letter-spacing:5.86px' fill="#000" stroke="#000" stroke-width="0.70" vector-effect="non-scaling-stroke">30</text>
<line x1="573.90" y1="1100.00" x2="573.90" y2="1115.00" stroke="#000" stroke-width="2.60" stroke-linecap="butt"/>
<text transform="translate(560.83 1154.00) scale(0.6254 1)" style='font-family:"Liberation Sans", sans-serif;font-weight:normal;font-size:29.28px;letter-spacing:5.86px' fill="#000" stroke="#000" stroke-width="0.70" vector-effect="non-scaling-stroke">40</text>
<line x1="663.20" y1="1100.00" x2="663.20" y2="1115.00" stroke="#000" stroke-width="2.60" stroke-linecap="butt"/>
<text transform="translate(649.76 1154.00) scale(0.6355 1)" style='font-family:"Liberation Sans", sans-serif;font-weight:normal;font-size:29.28px;letter-spacing:5.86px' fill="#000" stroke="#000" stroke-width="0.70" vector-effect="non-scaling-stroke">50</text>
<text transform="translate(323.01 1198.70) scale(0.6748 1)" style='font-family:"Liberation Sans", sans-serif;font-weight:normal;font-size:36.40px;letter-spacing:0.00px' fill="#000" stroke="#000" stroke-width="0.70" vector-effect="non-scaling-stroke">T</text>
<text transform="translate(340.22 1198.70) scale(1.0073 1)" style='font-family:"Liberation Sans", sans-serif;font-weight:normal;font-size:36.40px;letter-spacing:0.00px' fill="#000" stroke="#000" stroke-width="0.70" vector-effect="non-scaling-stroke">i</text>
<text transform="translate(349.12 1198.70) scale(0.7949 1)" style='font-family:"Liberation Sans", sans-serif;font-weight:normal;font-size:36.40px;letter-spacing:0.00px' fill="#000" stroke="#000" stroke-width="0.70" vector-effect="non-scaling-stroke">m</text>
<text transform="translate(378.56 1198.70) scale(0.7131 1)" style='font-family:"Liberation Sans", sans-serif;font-weight:normal;font-size:36.40px;letter-spacing:0.00px' fill="#000" stroke="#000" stroke-width="0.70" vector-effect="non-scaling-stroke">e</text>
<text transform="translate(405.06 1198.70) scale(0.6548 1)" style='font-family:"Liberation Sans", sans-serif;font-weight:normal;font-size:34.00px;letter-spacing:0.00px' fill="#000" stroke="#000" stroke-width="0.50" vector-effect="non-scaling-stroke">(</text>
<text transform="translate(415.81 1198.70) scale(0.7509 1)" style='font-family:"Liberation Sans", sans-serif;font-weight:normal;font-size:36.40px;letter-spacing:0.00px' fill="#000" stroke="#000" stroke-width="0.70" vector-effect="non-scaling-stroke">d</text>
<text transform="translate(435.34 1198.70) scale(0.5921 1)" style='font-family:"Liberation Sans", sans-serif;font-weight:normal;font-size:36.40px;letter-spacing:0.00px' fill="#000" stroke="#000" stroke-width="0.70" vector-effect="non-scaling-stroke">a</text>
<text transform="translate(451.26 1198.70) scale(0.7437 1)" style='font-family:"Liberation Sans", sans-serif;font-weight:normal;font-size:36.40px;letter-spacing:0.00px' fill="#000" stroke="#000" stroke-width="0.70" vector-effect="non-scaling-stroke">y</text>
<text transform="translate(467.58 1198.70) scale(0.7214 1)" style='font-family:"Liberation Sans", sans-serif;font-weight:normal;font-size:34.00px;letter-spacing:0.00px' fill="#000" stroke="#000" stroke-width="0.50" vector-effect="non-scaling-stroke">)</text>
<text transform="translate(51.90 1010.81) rotate(-90) scale(0.6378 1)" style='font-family:"Liberation Sans", sans-serif;font-weight:bold;font-size:36.50px;letter-spacing:0.00px' fill="#000">B</text>
<text transform="translate(51.90 983.21) rotate(-90) scale(0.6203 1)" style='font-family:"Liberation Sans", sans-serif;font-weight:bold;font-size:36.50px;letter-spacing:0.00px' fill="#000">o</text>
<text transform="translate(51.90 960.28) rotate(-90) scale(0.6727 1)" style='font-family:"Liberation Sans", sans-serif;font-weight:bold;font-size:36.50px;letter-spacing:0.00px' fill="#000">d</text>
<text transform="translate(51.90 937.64) rotate(-90) scale(0.6697 1)" style='font-family:"Liberation Sans", sans-serif;font-weight:bold;font-size:36.50px;letter-spacing:0.00px' fill="#000">y</text>
<text transform="translate(51.90 905.88) rotate(-90) scale(0.6492 1)" style='font-family:"Liberation Sans", sans-serif;font-weight:bold;font-size:36.50px;letter-spacing:0.00px' fill="#000">w</text>
<text transform="translate(51.90 878.82) rotate(-90) scale(0.6279 1)" style='font-family:"Liberation Sans", sans-serif;font-weight:bold;font-size:36.50px;letter-spacing:0.00px' fill="#000">e</text>
<text transform="translate(51.90 859.00) rotate(-90) scale(0.7828 1)" style='font-family:"Liberation Sans", sans-serif;font-weight:bold;font-size:36.50px;letter-spacing:0.00px' fill="#000">i</text>
<text transform="translate(51.90 847.38) rotate(-90) scale(0.6727 1)" style='font-family:"Liberation Sans", sans-serif;font-weight:bold;font-size:36.50px;letter-spacing:0.00px' fill="#000">g</text>
<text transform="translate(51.90 824.35) rotate(-90) scale(0.6450 1)" style='font-family:"Liberation Sans", sans-serif;font-weight:bold;font-size:36.50px;letter-spacing:0.00px' fill="#000">h</text>
<text transform="translate(51.90 801.46) rotate(-90) scale(0.7159 1)" style='font-family:"Liberation Sans", sans-serif;font-weight:bold;font-size:36.50px;letter-spacing:0.00px' fill="#000">t</text>
<text transform="translate(51.90 778.21) rotate(-90) scale(0.6253 1)" style='font-family:"Liberation Sans", sans-serif;font-weight:normal;font-size:35.00px;letter-spacing:0.00px' fill="#000" stroke="#000" stroke-width="0.60" vector-effect="non-scaling-stroke">(</text>
<text transform="translate(51.90 765.45) rotate(-90) scale(0.6510 1)" style='font-family:"Liberation Sans", sans-serif;font-weight:bold;font-size:36.50px;letter-spacing:0.00px' fill="#000">g</text>
<text transform="translate(51.90 741.61) rotate(-90) scale(0.6253 1)" style='font-family:"Liberation Sans", sans-serif;font-weight:normal;font-size:35.00px;letter-spacing:0.00px' fill="#000" stroke="#000" stroke-width="0.60" vector-effect="non-scaling-stroke">)</text>
<text transform="translate(11.00 645.60) scale(1.0282 1)" style='font-family:"Liberation Serif", serif;font-weight:normal;font-size:38.82px;letter-spacing:0.00px' fill="#000">(B)</text>
<line x1="216.70" y1="799.90" x2="216.70" y2="895.30" stroke="#000" stroke-width="2.50" stroke-linecap="butt"/>
<line x1="210.50" y1="799.90" x2="222.90" y2="799.90" stroke="#000" stroke-width="2.50" stroke-linecap="butt"/>
<line x1="210.50" y1="895.30" x2="222.90" y2="895.30" stroke="#000" stroke-width="2.50" stroke-linecap="butt"/>
<line x1="210.50" y1="809.10" x2="222.90" y2="809.10" stroke="#000" stroke-width="2.50" stroke-linecap="butt"/>
<line x1="210.50" y1="857.30" x2="222.90" y2="857.30" stroke="#000" stroke-width="2.50" stroke-linecap="butt"/>
<line x1="261.35" y1="784.30" x2="261.35" y2="862.70" stroke="#000" stroke-width="2.50" stroke-linecap="butt"/>
<line x1="255.15" y1="784.30" x2="267.55" y2="784.30" stroke="#000" stroke-width="2.50" stroke-linecap="butt"/>
<line x1="255.15" y1="862.70" x2="267.55" y2="862.70" stroke="#000" stroke-width="2.50" stroke-linecap="butt"/>
<line x1="255.15" y1="789.70" x2="267.55" y2="789.70" stroke="#000" stroke-width="2.50" stroke-linecap="butt"/>
<line x1="255.15" y1="857.60" x2="267.55" y2="857.60" stroke="#000" stroke-width="2.50" stroke-linecap="butt"/>
<line x1="279.21" y1="780.50" x2="279.21" y2="889.70" stroke="#000" stroke-width="2.50" stroke-linecap="butt"/>
<line x1="273.01" y1="780.50" x2="285.41" y2="780.50" stroke="#000" stroke-width="2.50" stroke-linecap="butt"/>
<line x1="273.01" y1="889.70" x2="285.41" y2="889.70" stroke="#000" stroke-width="2.50" stroke-linecap="butt"/>
<line x1="341.72" y1="793.50" x2="341.72" y2="885.10" stroke="#000" stroke-width="2.50" stroke-linecap="butt"/>
<line x1="335.52" y1="793.50" x2="347.92" y2="793.50" stroke="#000" stroke-width="2.50" stroke-linecap="butt"/>
<line x1="335.52" y1="885.10" x2="347.92" y2="885.10" stroke="#000" stroke-width="2.50" stroke-linecap="butt"/>
<line x1="335.52" y1="817.00" x2="347.92" y2="817.00" stroke="#000" stroke-width="2.50" stroke-linecap="butt"/>
<line x1="335.52" y1="823.00" x2="347.92" y2="823.00" stroke="#000" stroke-width="2.50" stroke-linecap="butt"/>
<line x1="368.51" y1="744.70" x2="368.51" y2="862.90" stroke="#000" stroke-width="2.50" stroke-linecap="butt"/>
<line x1="362.31" y1="744.70" x2="374.71" y2="744.70" stroke="#000" stroke-width="2.50" stroke-linecap="butt"/>
<line x1="362.31" y1="862.90" x2="374.71" y2="862.90" stroke="#000" stroke-width="2.50" stroke-linecap="butt"/>
<line x1="362.31" y1="763.60" x2="374.71" y2="763.60" stroke="#000" stroke-width="2.50" stroke-linecap="butt"/>
<line x1="362.31" y1="778.20" x2="374.71" y2="778.20" stroke="#000" stroke-width="2.50" stroke-linecap="butt"/>
<line x1="362.31" y1="854.20" x2="374.71" y2="854.20" stroke="#000" stroke-width="2.50" stroke-linecap="butt"/>
<line x1="413.16" y1="706.10" x2="413.16" y2="820.00" stroke="#000" stroke-width="2.50" stroke-linecap="butt"/>
<line x1="406.96" y1="706.10" x2="419.36" y2="706.10" stroke="#000" stroke-width="2.50" stroke-linecap="butt"/>
<line x1="406.96" y1="820.00" x2="419.36" y2="820.00" stroke="#000" stroke-width="2.50" stroke-linecap="butt"/>
<line x1="406.96" y1="712.60" x2="419.36" y2="712.60" stroke="#000" stroke-width="2.50" stroke-linecap="butt"/>
<line x1="406.96" y1="721.30" x2="419.36" y2="721.30" stroke="#000" stroke-width="2.50" stroke-linecap="butt"/>
<line x1="406.96" y1="792.80" x2="419.36" y2="792.80" stroke="#000" stroke-width="2.50" stroke-linecap="butt"/>
<line x1="406.96" y1="797.20" x2="419.36" y2="797.20" stroke="#000" stroke-width="2.50" stroke-linecap="butt"/>
<line x1="439.95" y1="735.30" x2="439.95" y2="821.20" stroke="#000" stroke-width="2.50" stroke-linecap="butt"/>
<line x1="433.75" y1="735.30" x2="446.15" y2="735.30" stroke="#000" stroke-width="2.50" stroke-linecap="butt"/>
<line x1="433.75" y1="821.20" x2="446.15" y2="821.20" stroke="#000" stroke-width="2.50" stroke-linecap="butt"/>
<line x1="433.75" y1="754.00" x2="446.15" y2="754.00" stroke="#000" stroke-width="2.50" stroke-linecap="butt"/>
<line x1="433.75" y1="808.30" x2="446.15" y2="808.30" stroke="#000" stroke-width="2.50" stroke-linecap="butt"/>
<line x1="475.67" y1="706.10" x2="475.67" y2="832.80" stroke="#000" stroke-width="2.50" stroke-linecap="butt"/>
<line x1="469.47" y1="706.10" x2="481.87" y2="706.10" stroke="#000" stroke-width="2.50" stroke-linecap="butt"/>
<line x1="469.47" y1="832.80" x2="481.87" y2="832.80" stroke="#000" stroke-width="2.50" stroke-linecap="butt"/>
<line x1="469.47" y1="721.90" x2="481.87" y2="721.90" stroke="#000" stroke-width="2.50" stroke-linecap="butt"/>
<line x1="469.47" y1="792.80" x2="481.87" y2="792.80" stroke="#000" stroke-width="2.50" stroke-linecap="butt"/>
<line x1="469.47" y1="806.00" x2="481.87" y2="806.00" stroke="#000" stroke-width="2.50" stroke-linecap="butt"/>
<line x1="502.46" y1="733.20" x2="502.46" y2="831.70" stroke="#000" stroke-width="2.50" stroke-linecap="butt"/>
<line x1="496.26" y1="733.20" x2="508.66" y2="733.20" stroke="#000" stroke-width="2.50" stroke-linecap="butt"/>
<line x1="496.26" y1="831.70" x2="508.66" y2="831.70" stroke="#000" stroke-width="2.50" stroke-linecap="butt"/>
<line x1="496.26" y1="742.00" x2="508.66" y2="742.00" stroke="#000" stroke-width="2.50" stroke-linecap="butt"/>
<line x1="496.26" y1="800.00" x2="508.66" y2="800.00" stroke="#000" stroke-width="2.50" stroke-linecap="butt"/>
<line x1="496.26" y1="805.00" x2="508.66" y2="805.00" stroke="#000" stroke-width="2.50" stroke-linecap="butt"/>
<line x1="529.25" y1="687.40" x2="529.25" y2="815.00" stroke="#000" stroke-width="2.50" stroke-linecap="butt"/>
<line x1="523.05" y1="687.40" x2="535.45" y2="687.40" stroke="#000" stroke-width="2.50" stroke-linecap="butt"/>
<line x1="523.05" y1="815.00" x2="535.45" y2="815.00" stroke="#000" stroke-width="2.50" stroke-linecap="butt"/>
<line x1="523.05" y1="693.00" x2="535.45" y2="693.00" stroke="#000" stroke-width="2.50" stroke-linecap="butt"/>
<line x1="523.05" y1="700.00" x2="535.45" y2="700.00" stroke="#000" stroke-width="2.50" stroke-linecap="butt"/>
<line x1="523.05" y1="790.00" x2="535.45" y2="790.00" stroke="#000" stroke-width="2.50" stroke-linecap="butt"/>
<line x1="523.05" y1="800.00" x2="535.45" y2="800.00" stroke="#000" stroke-width="2.50" stroke-linecap="butt"/>
<line x1="573.90" y1="721.60" x2="573.90" y2="819.80" stroke="#000" stroke-width="2.50" stroke-linecap="butt"/>
<line x1="567.70" y1="721.60" x2="580.10" y2="721.60" stroke="#000" stroke-width="2.50" stroke-linecap="butt"/>
<line x1="567.70" y1="819.80" x2="580.10" y2="819.80" stroke="#000" stroke-width="2.50" stroke-linecap="butt"/>
<line x1="567.70" y1="730.00" x2="580.10" y2="730.00" stroke="#000" stroke-width="2.50" stroke-linecap="butt"/>
<line x1="567.70" y1="738.00" x2="580.10" y2="738.00" stroke="#000" stroke-width="2.50" stroke-linecap="butt"/>
<line x1="567.70" y1="800.00" x2="580.10" y2="800.00" stroke="#000" stroke-width="2.50" stroke-linecap="butt"/>
<line x1="567.70" y1="808.00" x2="580.10" y2="808.00" stroke="#000" stroke-width="2.50" stroke-linecap="butt"/>
<line x1="600.69" y1="693.80" x2="600.69" y2="825.30" stroke="#000" stroke-width="2.50" stroke-linecap="butt"/>
<line x1="594.49" y1="693.80" x2="606.89" y2="693.80" stroke="#000" stroke-width="2.50" stroke-linecap="butt"/>
<line x1="594.49" y1="825.30" x2="606.89" y2="825.30" stroke="#000" stroke-width="2.50" stroke-linecap="butt"/>
<line x1="594.49" y1="699.40" x2="606.89" y2="699.40" stroke="#000" stroke-width="2.50" stroke-linecap="butt"/>
<line x1="594.49" y1="760.00" x2="606.89" y2="760.00" stroke="#000" stroke-width="2.50" stroke-linecap="butt"/>
<line x1="594.49" y1="770.00" x2="606.89" y2="770.00" stroke="#000" stroke-width="2.50" stroke-linecap="butt"/>
<line x1="618.55" y1="679.10" x2="618.55" y2="815.00" stroke="#000" stroke-width="2.50" stroke-linecap="butt"/>
<line x1="612.35" y1="679.10" x2="624.75" y2="679.10" stroke="#000" stroke-width="2.50" stroke-linecap="butt"/>
<line x1="612.35" y1="815.00" x2="624.75" y2="815.00" stroke="#000" stroke-width="2.50" stroke-linecap="butt"/>
<line x1="612.35" y1="684.80" x2="624.75" y2="684.80" stroke="#000" stroke-width="2.50" stroke-linecap="butt"/>
<line x1="612.35" y1="765.00" x2="624.75" y2="765.00" stroke="#000" stroke-width="2.50" stroke-linecap="butt"/>
<line x1="636.41" y1="670.50" x2="636.41" y2="825.30" stroke="#000" stroke-width="2.50" stroke-linecap="butt"/>
<line x1="630.21" y1="670.50" x2="642.61" y2="670.50" stroke="#000" stroke-width="2.50" stroke-linecap="butt"/>
<line x1="630.21" y1="825.30" x2="642.61" y2="825.30" stroke="#000" stroke-width="2.50" stroke-linecap="butt"/>
<line x1="630.21" y1="745.00" x2="642.61" y2="745.00" stroke="#000" stroke-width="2.50" stroke-linecap="butt"/>
<line x1="630.21" y1="805.00" x2="642.61" y2="805.00" stroke="#000" stroke-width="2.50" stroke-linecap="butt"/>
<polyline points="216.70,826.80 261.35,798.50 279.21,836.40 341.72,834.80 368.51,800.30 413.16,747.60 439.95,775.30 475.67,778.20 502.46,755.80 529.25,726.50 573.90,761.00 600.69,718.00 618.55,733.20 636.41,705.20" fill="none" stroke="#000" stroke-width="4.80" stroke-linejoin="round" stroke-linecap="round"/>
<polyline points="216.70,871.50 261.35,835.70 279.21,812.00 341.72,857.20 368.51,822.20 413.16,771.00 439.95,780.30 475.67,749.00 502.46,786.00 529.25,743.00 573.90,764.00 600.69,734.60 618.55,705.60 636.41,776.20" fill="none" stroke="#000" stroke-width="4.80" stroke-linejoin="round" stroke-linecap="round"/>
<polyline points="216.70,843.00 261.35,821.80 279.21,821.80 341.72,808.20 368.51,792.70 413.16,757.80 439.95,771.00 475.67,763.60 502.46,786.00 529.25,779.30 573.90,769.30 600.69,785.90 618.55,779.00 636.41,785.90" fill="none" stroke="#000" stroke-width="4.80" stroke-linejoin="round" stroke-linecap="round"/>
<ellipse cx="216.70" cy="826.80" rx="6.50" ry="6.80" fill="#000"/>
<ellipse cx="261.35" cy="798.50" rx="6.50" ry="6.80" fill="#000"/>
<ellipse cx="279.21" cy="836.40" rx="6.50" ry="6.80" fill="#000"/>
<ellipse cx="341.72" cy="834.80" rx="6.50" ry="6.80" fill="#000"/>
<ellipse cx="368.51" cy="800.30" rx="6.50" ry="6.80" fill="#000"/>
<ellipse cx="413.16" cy="747.60" rx="6.50" ry="6.80" fill="#000"/>
<ellipse cx="439.95" cy="775.30" rx="6.50" ry="6.80" fill="#000"/>
<ellipse cx="475.67" cy="778.20" rx="6.50" ry="6.80" fill="#000"/>
<ellipse cx="502.46" cy="755.80" rx="6.50" ry="6.80" fill="#000"/>
<ellipse cx="529.25" cy="726.50" rx="6.50" ry="6.80" fill="#000"/>
<ellipse cx="573.90" cy="761.00" rx="6.50" ry="6.80" fill="#000"/>
<ellipse cx="600.69" cy="718.00" rx="6.50" ry="6.80" fill="#000"/>
<ellipse cx="618.55" cy="733.20" rx="6.50" ry="6.80" fill="#000"/>
<ellipse cx="636.41" cy="705.20" rx="6.50" ry="6.80" fill="#000"/>
<rect x="210.70" y="865.00" width="12.00" height="13.00" fill="#a800a8" stroke="#301030" stroke-width="1.60"/>
<rect x="255.35" y="829.20" width="12.00" height="13.00" fill="#a800a8" stroke="#301030" stroke-width="1.60"/>
<rect x="273.21" y="805.50" width="12.00" height="13.00" fill="#a800a8" stroke="#301030" stroke-width="1.60"/>
<rect x="335.72" y="850.70" width="12.00" height="13.00" fill="#a800a8" stroke="#301030" stroke-width="1.60"/>
<rect x="362.51" y="815.70" width="12.00" height="13.00" fill="#a800a8" stroke="#301030" stroke-width="1.60"/>
<rect x="407.16" y="764.50" width="12.00" height="13.00" fill="#a800a8" stroke="#301030" stroke-width="1.60"/>
<rect x="433.95" y="773.80" width="12.00" height="13.00" fill="#a800a8" stroke="#301030" stroke-width="1.60"/>
<rect x="469.67" y="742.50" width="12.00" height="13.00" fill="#a800a8" stroke="#301030" stroke-width="1.60"/>
<rect x="496.46" y="779.50" width="12.00" height="13.00" fill="#a800a8" stroke="#301030" stroke-width="1.60"/>
<rect x="523.25" y="736.50" width="12.00" height="13.00" fill="#a800a8" stroke="#301030" stroke-width="1.60"/>
<rect x="567.90" y="757.50" width="12.00" height="13.00" fill="#a800a8" stroke="#301030" stroke-width="1.60"/>
<rect x="594.69" y="728.10" width="12.00" height="13.00" fill="#a800a8" stroke="#301030" stroke-width="1.60"/>
<rect x="612.55" y="699.10" width="12.00" height="13.00" fill="#a800a8" stroke="#301030" stroke-width="1.60"/>
<rect x="630.41" y="769.70" width="12.00" height="13.00" fill="#a800a8" stroke="#301030" stroke-width="1.60"/>
<polygon points="210.40,838.20 223.00,838.20 216.70,850.20" fill="#00dd00" stroke="#103010" stroke-width="1.60" stroke-linejoin="round"/>
<polygon points="255.05,817.00 267.65,817.00 261.35,829.00" fill="#00dd00" stroke="#103010" stroke-width="1.60" stroke-linejoin="round"/>
<polygon points="272.91,817.00 285.51,817.00 279.21,829.00" fill="#00dd00" stroke="#103010" stroke-width="1.60" stroke-linejoin="round"/>
<polygon points="335.42,803.40 348.02,803.40 341.72,815.40" fill="#00dd00" stroke="#103010" stroke-width="1.60" stroke-linejoin="round"/>
<polygon points="362.21,787.90 374.81,787.90 368.51,799.90" fill="#00dd00" stroke="#103010" stroke-width="1.60" stroke-linejoin="round"/>
<polygon points="406.86,753.00 419.46,753.00 413.16,765.00" fill="#00dd00" stroke="#103010" stroke-width="1.60" stroke-linejoin="round"/>
<polygon points="433.65,766.20 446.25,766.20 439.95,778.20" fill="#00dd00" stroke="#103010" stroke-width="1.60" stroke-linejoin="round"/>
<polygon points="469.37,758.80 481.97,758.80 475.67,770.80" fill="#00dd00" stroke="#103010" stroke-width="1.60" stroke-linejoin="round"/>
<polygon points="496.16,781.20 508.76,781.20 502.46,793.20" fill="#00dd00" stroke="#103010" stroke-width="1.60" stroke-linejoin="round"/>
<polygon points="522.95,774.50 535.55,774.50 529.25,786.50" fill="#00dd00" stroke="#103010" stroke-width="1.60" stroke-linejoin="round"/>
<polygon points="567.60,764.50 580.20,764.50 573.90,776.50" fill="#00dd00" stroke="#103010" stroke-width="1.60" stroke-linejoin="round"/>
<polygon points="594.39,781.10 606.99,781.10 600.69,793.10" fill="#00dd00" stroke="#103010" stroke-width="1.60" stroke-linejoin="round"/>
<polygon points="612.25,774.20 624.85,774.20 618.55,786.20" fill="#00dd00" stroke="#103010" stroke-width="1.60" stroke-linejoin="round"/>
<polygon points="630.11,781.10 642.71,781.10 636.41,793.10" fill="#00dd00" stroke="#103010" stroke-width="1.60" stroke-linejoin="round"/>
<line x1="216.70" y1="865.50" x2="216.70" y2="877.50" stroke="#000" stroke-opacity="0.45" stroke-width="2.8"/>
<line x1="261.35" y1="829.70" x2="261.35" y2="841.70" stroke="#000" stroke-opacity="0.45" stroke-width="2.8"/>
<line x1="279.21" y1="806.00" x2="279.21" y2="818.00" stroke="#000" stroke-opacity="0.45" stroke-width="2.8"/>
<line x1="341.72" y1="851.20" x2="341.72" y2="863.20" stroke="#000" stroke-opacity="0.45" stroke-width="2.8"/>
<line x1="368.51" y1="816.20" x2="368.51" y2="828.20" stroke="#000" stroke-opacity="0.45" stroke-width="2.8"/>
<line x1="413.16" y1="765.00" x2="413.16" y2="777.00" stroke="#000" stroke-opacity="0.45" stroke-width="2.8"/>
<line x1="439.95" y1="774.30" x2="439.95" y2="786.30" stroke="#000" stroke-opacity="0.45" stroke-width="2.8"/>
<line x1="475.67" y1="743.00" x2="475.67" y2="755.00" stroke="#000" stroke-opacity="0.45" stroke-width="2.8"/>
<line x1="502.46" y1="780.00" x2="502.46" y2="792.00" stroke="#000" stroke-opacity="0.45" stroke-width="2.8"/>
<line x1="529.25" y1="737.00" x2="529.25" y2="749.00" stroke="#000" stroke-opacity="0.45" stroke-width="2.8"/>
<line x1="573.90" y1="758.00" x2="573.90" y2="770.00" stroke="#000" stroke-opacity="0.45" stroke-width="2.8"/>
<line x1="600.69" y1="728.60" x2="600.69" y2="740.60" stroke="#000" stroke-opacity="0.45" stroke-width="2.8"/>
<line x1="618.55" y1="699.60" x2="618.55" y2="711.60" stroke="#000" stroke-opacity="0.45" stroke-width="2.8"/>
<line x1="636.41" y1="770.20" x2="636.41" y2="782.20" stroke="#000" stroke-opacity="0.45" stroke-width="2.8"/>
<line x1="216.70" y1="837.00" x2="216.70" y2="849.00" stroke="#000" stroke-opacity="0.45" stroke-width="2.8"/>
<line x1="261.35" y1="815.80" x2="261.35" y2="827.80" stroke="#000" stroke-opacity="0.45" stroke-width="2.8"/>
<line x1="279.21" y1="815.80" x2="279.21" y2="827.80" stroke="#000" stroke-opacity="0.45" stroke-width="2.8"/>
<line x1="341.72" y1="802.20" x2="341.72" y2="814.20" stroke="#000" stroke-opacity="0.45" stroke-width="2.8"/>
<line x1="368.51" y1="786.70" x2="368.51" y2="798.70" stroke="#000" stroke-opacity="0.45" stroke-width="2.8"/>
<line x1="413.16" y1="751.80" x2="413.16" y2="763.80" stroke="#000" stroke-opacity="0.45" stroke-width="2.8"/>
<line x1="439.95" y1="765.00" x2="439.95" y2="777.00" stroke="#000" stroke-opacity="0.45" stroke-width="2.8"/>
<line x1="475.67" y1="757.60" x2="475.67" y2="769.60" stroke="#000" stroke-opacity="0.45" stroke-width="2.8"/>
<line x1="502.46" y1="780.00" x2="502.46" y2="792.00" stroke="#000" stroke-opacity="0.45" stroke-width="2.8"/>
<line x1="529.25" y1="773.30" x2="529.25" y2="785.30" stroke="#000" stroke-opacity="0.45" stroke-width="2.8"/>
<line x1="573.90" y1="763.30" x2="573.90" y2="775.30" stroke="#000" stroke-opacity="0.45" stroke-width="2.8"/>
<line x1="600.69" y1="779.90" x2="600.69" y2="791.90" stroke="#000" stroke-opacity="0.45" stroke-width="2.8"/>
<line x1="618.55" y1="773.00" x2="618.55" y2="785.00" stroke="#000" stroke-opacity="0.45" stroke-width="2.8"/>
<line x1="636.41" y1="779.90" x2="636.41" y2="791.90" stroke="#000" stroke-opacity="0.45" stroke-width="2.8"/>
<rect x="482.30" y="957.30" width="152.70" height="108.00" fill="#fff" stroke="#333" stroke-width="1.30"/>
<line x1="491.90" y1="983.60" x2="534.80" y2="983.60" stroke="#000" stroke-width="4.50" stroke-linecap="butt"/>
<ellipse cx="513.20" cy="983.60" rx="7.00" ry="7.50" fill="#000"/>
<text transform="translate(542.52 990.30) scale(0.5657 1)" style='font-family:"Liberation Sans", sans-serif;font-weight:bold;font-size:21.16px;letter-spacing:6.35px' fill="#000">Control</text>
<line x1="491.90" y1="1010.80" x2="534.80" y2="1010.80" stroke="#000" stroke-width="4.50" stroke-linecap="butt"/>
<rect x="507.70" y="1004.30" width="11.00" height="13.00" fill="#a800a8" stroke="#301030" stroke-width="1.60"/>
<text transform="translate(542.15 1017.70) scale(0.6169 1)" style='font-family:"Liberation Sans", sans-serif;font-weight:bold;font-size:21.16px;letter-spacing:6.35px' fill="#000">EcN</text>
<line x1="491.90" y1="1037.60" x2="534.80" y2="1037.60" stroke="#000" stroke-width="4.50" stroke-linecap="butt"/>
<polygon points="506.70,1033.40 519.70,1033.40 513.20,1046.40" fill="#00dd00" stroke="#103010" stroke-width="1.60" stroke-linejoin="round"/>
<text transform="translate(542.18 1044.90) scale(0.5972 1)" style='font-family:"Liberation Sans", sans-serif;font-weight:bold;font-size:21.16px;letter-spacing:6.35px' fill="#000">EcN</text>
<text transform="translate(578.71 1044.90) scale(0.6011 1)" style='font-family:"Liberation Sans", sans-serif;font-weight:bold;font-size:21.16px;letter-spacing:6.35px' fill="#000">-BUT</text>
<rect x="129" y="1257.5" width="544.3" height="471.6" fill="none" stroke="#000" stroke-width="4.6"/>
<line x1="117.00" y1="1729.30" x2="129.00" y2="1729.30" stroke="#000" stroke-width="2.60" stroke-linecap="butt"/>
<text transform="translate(91.85 1739.30) scale(0.6373 1)" style='font-family:"Liberation Sans", sans-serif;font-weight:normal;font-size:29.42px;letter-spacing:0.00px' fill="#000" stroke="#000" stroke-width="0.70" vector-effect="non-scaling-stroke">0</text>
<line x1="117.00" y1="1661.80" x2="129.00" y2="1661.80" stroke="#000" stroke-width="2.60" stroke-linecap="butt"/>
<g transform="translate(89.05 1671.80) scale(1.2555 1)" fill="#000"><text style='font-family:"Liberation Sans", sans-serif;font-weight:normal;font-size:29.42px;letter-spacing:0.00px' stroke="#000" stroke-width="0.70" vector-effect="non-scaling-stroke"> </text><path transform="translate(0.000 0) scale(0.01437 -0.01437)" d="M515 0V1237L197 1010V1180L530 1409H696V0Z" stroke="#000" stroke-width="0.70" vector-effect="non-scaling-stroke"/></g>
<line x1="117.00" y1="1594.30" x2="129.00" y2="1594.30" stroke="#000" stroke-width="2.60" stroke-linecap="butt"/>
<text transform="translate(91.61 1604.30) scale(0.6723 1)" style='font-family:"Liberation Sans", sans-serif;font-weight:normal;font-size:29.42px;letter-spacing:0.00px' fill="#000" stroke="#000" stroke-width="0.70" vector-effect="non-scaling-stroke">2</text>
<line x1="117.00" y1="1526.80" x2="129.00" y2="1526.80" stroke="#000" stroke-width="2.60" stroke-linecap="butt"/>
<text transform="translate(91.84 1536.80) scale(0.6440 1)" style='font-family:"Liberation Sans", sans-serif;font-weight:normal;font-size:29.42px;letter-spacing:0.00px' fill="#000" stroke="#000" stroke-width="0.70" vector-effect="non-scaling-stroke">3</text>
<line x1="117.00" y1="1459.30" x2="129.00" y2="1459.30" stroke="#000" stroke-width="2.60" stroke-linecap="butt"/>
<text transform="translate(92.24 1469.30) scale(0.6058 1)" style='font-family:"Liberation Sans", sans-serif;font-weight:normal;font-size:29.42px;letter-spacing:0.00px' fill="#000" stroke="#000" stroke-width="0.70" vector-effect="non-scaling-stroke">4</text>
<line x1="117.00" y1="1391.80" x2="129.00" y2="1391.80" stroke="#000" stroke-width="2.60" stroke-linecap="butt"/>
<text transform="translate(91.84 1401.80) scale(0.6440 1)" style='font-family:"Liberation Sans", sans-serif;font-weight:normal;font-size:29.42px;letter-spacing:0.00px' fill="#000" stroke="#000" stroke-width="0.70" vector-effect="non-scaling-stroke">5</text>
<line x1="117.00" y1="1324.30" x2="129.00" y2="1324.30" stroke="#000" stroke-width="2.60" stroke-linecap="butt"/>
<text transform="translate(91.63 1334.30) scale(0.6579 1)" style='font-family:"Liberation Sans", sans-serif;font-weight:normal;font-size:29.42px;letter-spacing:0.00px' fill="#000" stroke="#000" stroke-width="0.70" vector-effect="non-scaling-stroke">6</text>
<line x1="117.00" y1="1256.80" x2="129.00" y2="1256.80" stroke="#000" stroke-width="2.60" stroke-linecap="butt"/>
<text transform="translate(91.61 1266.80) scale(0.6723 1)" style='font-family:"Liberation Sans", sans-serif;font-weight:normal;font-size:29.42px;letter-spacing:0.00px' fill="#000" stroke="#000" stroke-width="0.70" vector-effect="non-scaling-stroke">7</text>
<text transform="translate(8.41 1265.00) scale(1.0608 1)" style='font-family:"Liberation Serif", serif;font-weight:normal;font-size:31.12px;letter-spacing:0.00px' fill="#000">(C)</text>
<text transform="translate(35.50 1608.00) rotate(-90) scale(0.7619 1)" style='font-family:"Liberation Sans", sans-serif;font-weight:bold;font-size:37.50px;letter-spacing:0.00px' fill="#000" stroke="#000" stroke-width="0.50" vector-effect="non-scaling-stroke">l</text>
<text transform="translate(35.50 1595.89) rotate(-90) scale(0.5937 1)" style='font-family:"Liberation Sans", sans-serif;font-weight:bold;font-size:37.50px;letter-spacing:0.00px' fill="#000" stroke="#000" stroke-width="0.50" vector-effect="non-scaling-stroke">o</text>
<text transform="translate(35.50 1571.58) rotate(-90) scale(0.5861 1)" style='font-family:"Liberation Sans", sans-serif;font-weight:bold;font-size:37.50px;letter-spacing:0.00px' fill="#000" stroke="#000" stroke-width="0.50" vector-effect="non-scaling-stroke">g</text>
<text transform="translate(35.50 1537.65) rotate(-90) scale(0.6339 1)" style='font-family:"Liberation Sans", sans-serif;font-weight:bold;font-size:37.50px;letter-spacing:0.00px' fill="#000" stroke="#000" stroke-width="0.50" vector-effect="non-scaling-stroke">B</text>
<text transform="translate(35.50 1509.13) rotate(-90) scale(0.5583 1)" style='font-family:"Liberation Sans", sans-serif;font-weight:bold;font-size:37.50px;letter-spacing:0.00px' fill="#000" stroke="#000" stroke-width="0.50" vector-effect="non-scaling-stroke">a</text>
<text transform="translate(35.50 1489.02) rotate(-90) scale(0.6158 1)" style='font-family:"Liberation Sans", sans-serif;font-weight:bold;font-size:37.50px;letter-spacing:0.00px' fill="#000" stroke="#000" stroke-width="0.50" vector-effect="non-scaling-stroke">c</text>
<text transform="translate(35.50 1468.63) rotate(-90) scale(0.6194 1)" style='font-family:"Liberation Sans", sans-serif;font-weight:bold;font-size:37.50px;letter-spacing:0.00px' fill="#000" stroke="#000" stroke-width="0.50" vector-effect="non-scaling-stroke">t</text>
<text transform="translate(35.50 1457.03) rotate(-90) scale(0.6222 1)" style='font-family:"Liberation Sans", sans-serif;font-weight:bold;font-size:37.50px;letter-spacing:0.00px' fill="#000" stroke="#000" stroke-width="0.50" vector-effect="non-scaling-stroke">e</text>
<text transform="translate(35.50 1435.91) rotate(-90) scale(0.6194 1)" style='font-family:"Liberation Sans", sans-serif;font-weight:bold;font-size:37.50px;letter-spacing:0.00px' fill="#000" stroke="#000" stroke-width="0.50" vector-effect="non-scaling-stroke">r</text>
<text transform="translate(35.50 1420.25) rotate(-90) scale(0.6286 1)" style='font-family:"Liberation Sans", sans-serif;font-weight:bold;font-size:37.50px;letter-spacing:0.00px' fill="#000" stroke="#000" stroke-width="0.50" vector-effect="non-scaling-stroke">i</text>
<text transform="translate(35.50 1409.47) rotate(-90) scale(0.5931 1)" style='font-family:"Liberation Sans", sans-serif;font-weight:bold;font-size:37.50px;letter-spacing:0.00px' fill="#000" stroke="#000" stroke-width="0.50" vector-effect="non-scaling-stroke">a</text>
<text transform="translate(72.90 1609.98) rotate(-90) scale(0.5451 1)" style='font-family:"Liberation Sans", sans-serif;font-weight:normal;font-size:36.00px;letter-spacing:0.00px' fill="#000" stroke="#000" stroke-width="1.00" vector-effect="non-scaling-stroke">(</text>
<text transform="translate(72.90 1597.32) rotate(-90) scale(0.6158 1)" style='font-family:"Liberation Sans", sans-serif;font-weight:bold;font-size:37.50px;letter-spacing:0.00px' fill="#000" stroke="#000" stroke-width="0.50" vector-effect="non-scaling-stroke">c</text>
<text transform="translate(72.90 1577.00) rotate(-90) scale(0.7083 1)" style='font-family:"Liberation Sans", sans-serif;font-weight:bold;font-size:37.50px;letter-spacing:0.00px' fill="#000" stroke="#000" stroke-width="0.50" vector-effect="non-scaling-stroke">f</text>
<text transform="translate(72.90 1564.17) rotate(-90) scale(0.6103 1)" style='font-family:"Liberation Sans", sans-serif;font-weight:bold;font-size:37.50px;letter-spacing:0.00px' fill="#000" stroke="#000" stroke-width="0.50" vector-effect="non-scaling-stroke">u</text>
<text transform="translate(72.90 1541.25) rotate(-90) scale(0.6667 1)" style='font-family:"Liberation Sans", sans-serif;font-weight:bold;font-size:37.50px;letter-spacing:0.00px' fill="#000" stroke="#000" stroke-width="0.50" vector-effect="non-scaling-stroke">/</text>
<text transform="translate(72.90 1529.09) rotate(-90) scale(0.5914 1)" style='font-family:"Liberation Sans", sans-serif;font-weight:bold;font-size:37.50px;letter-spacing:0.00px' fill="#000" stroke="#000" stroke-width="0.50" vector-effect="non-scaling-stroke">g</text>
<text transform="translate(72.90 1495.53) rotate(-90) scale(0.6194 1)" style='font-family:"Liberation Sans", sans-serif;font-weight:bold;font-size:37.50px;letter-spacing:0.00px' fill="#000" stroke="#000" stroke-width="0.50" vector-effect="non-scaling-stroke">t</text>
<text transform="translate(72.90 1483.15) rotate(-90) scale(0.6286 1)" style='font-family:"Liberation Sans", sans-serif;font-weight:bold;font-size:37.50px;letter-spacing:0.00px' fill="#000" stroke="#000" stroke-width="0.50" vector-effect="non-scaling-stroke">i</text>
<text transform="translate(72.90 1471.80) rotate(-90) scale(0.6111 1)" style='font-family:"Liberation Sans", sans-serif;font-weight:bold;font-size:37.50px;letter-spacing:0.00px' fill="#000" stroke="#000" stroke-width="0.50" vector-effect="non-scaling-stroke">s</text>
<text transform="translate(72.90 1450.76) rotate(-90) scale(0.5056 1)" style='font-family:"Liberation Sans", sans-serif;font-weight:bold;font-size:37.50px;letter-spacing:0.00px' fill="#000" stroke="#000" stroke-width="0.50" vector-effect="non-scaling-stroke">s</text>
<text transform="translate(72.90 1430.31) rotate(-90) scale(0.5388 1)" style='font-family:"Liberation Sans", sans-serif;font-weight:bold;font-size:37.50px;letter-spacing:0.00px' fill="#000" stroke="#000" stroke-width="0.50" vector-effect="non-scaling-stroke">u</text>
<text transform="translate(72.90 1407.02) rotate(-90) scale(0.6167 1)" style='font-family:"Liberation Sans", sans-serif;font-weight:bold;font-size:37.50px;letter-spacing:0.00px' fill="#000" stroke="#000" stroke-width="0.50" vector-effect="non-scaling-stroke">e</text>
<text transform="translate(72.90 1383.87) rotate(-90) scale(0.4088 1)" style='font-family:"Liberation Sans", sans-serif;font-weight:normal;font-size:36.00px;letter-spacing:0.00px' fill="#000" stroke="#000" stroke-width="1.00" vector-effect="non-scaling-stroke">)</text>
<line x1="219.00" y1="1729.00" x2="219.00" y2="1737.00" stroke="#000" stroke-width="2.20" stroke-linecap="butt"/>
<line x1="219.00" y1="1688.80" x2="219.00" y2="1695.80" stroke="#222" stroke-width="2.20" stroke-linecap="butt"/>
<line x1="214.00" y1="1688.80" x2="224.00" y2="1688.80" stroke="#222" stroke-width="2.20" stroke-linecap="butt"/>
<line x1="243.00" y1="1672.40" x2="243.00" y2="1698.70" stroke="#222" stroke-width="2.20" stroke-linecap="butt"/>
<line x1="238.00" y1="1672.40" x2="248.00" y2="1672.40" stroke="#222" stroke-width="2.20" stroke-linecap="butt"/>
<rect x="209.00" y="1695.80" width="20.00" height="33.20" fill="#ff0000" stroke="#222" stroke-width="1.40"/>
<rect x="233.00" y="1698.70" width="20.00" height="30.30" fill="#00f000" stroke="#222" stroke-width="1.40"/>
<text transform="translate(186.72 1776.90) scale(0.7357 1)" style='font-family:"Liberation Sans", sans-serif;font-weight:normal;font-size:28.55px;letter-spacing:3.43px' fill="#000" stroke="#000" stroke-width="0.90" vector-effect="non-scaling-stroke">Heart</text>
<line x1="309.80" y1="1729.00" x2="309.80" y2="1737.00" stroke="#000" stroke-width="2.20" stroke-linecap="butt"/>
<line x1="309.80" y1="1603.80" x2="309.80" y2="1617.70" stroke="#222" stroke-width="2.20" stroke-linecap="butt"/>
<line x1="304.80" y1="1603.80" x2="314.80" y2="1603.80" stroke="#222" stroke-width="2.20" stroke-linecap="butt"/>
<line x1="333.80" y1="1614.00" x2="333.80" y2="1630.40" stroke="#222" stroke-width="2.20" stroke-linecap="butt"/>
<line x1="328.80" y1="1614.00" x2="338.80" y2="1614.00" stroke="#222" stroke-width="2.20" stroke-linecap="butt"/>
<rect x="299.80" y="1617.70" width="20.00" height="111.30" fill="#ff0000" stroke="#222" stroke-width="1.40"/>
<rect x="323.80" y="1630.40" width="20.00" height="98.60" fill="#00f000" stroke="#222" stroke-width="1.40"/>
<text transform="translate(278.64 1776.90) scale(0.7693 1)" style='font-family:"Liberation Sans", sans-serif;font-weight:normal;font-size:28.55px;letter-spacing:3.43px' fill="#000" stroke="#000" stroke-width="0.90" vector-effect="non-scaling-stroke">Liver</text>
<line x1="400.60" y1="1729.00" x2="400.60" y2="1737.00" stroke="#000" stroke-width="2.20" stroke-linecap="butt"/>
<line x1="424.60" y1="1669.50" x2="424.60" y2="1685.90" stroke="#222" stroke-width="2.20" stroke-linecap="butt"/>
<line x1="419.60" y1="1669.50" x2="429.60" y2="1669.50" stroke="#222" stroke-width="2.20" stroke-linecap="butt"/>
<rect x="390.60" y="1703.10" width="20.00" height="25.90" fill="#ff0000" stroke="#222" stroke-width="1.40"/>
<rect x="414.60" y="1685.90" width="20.00" height="43.10" fill="#00f000" stroke="#222" stroke-width="1.40"/>
<text transform="translate(360.46 1776.90) scale(0.7282 1)" style='font-family:"Liberation Sans", sans-serif;font-weight:normal;font-size:28.55px;letter-spacing:3.43px' fill="#000" stroke="#000" stroke-width="0.90" vector-effect="non-scaling-stroke">Spleen</text>
<line x1="491.40" y1="1729.00" x2="491.40" y2="1737.00" stroke="#000" stroke-width="2.20" stroke-linecap="butt"/>
<line x1="491.40" y1="1645.80" x2="491.40" y2="1663.70" stroke="#222" stroke-width="2.20" stroke-linecap="butt"/>
<line x1="486.40" y1="1645.80" x2="496.40" y2="1645.80" stroke="#222" stroke-width="2.20" stroke-linecap="butt"/>
<line x1="515.40" y1="1623.70" x2="515.40" y2="1630.50" stroke="#222" stroke-width="2.20" stroke-linecap="butt"/>
<line x1="510.40" y1="1623.70" x2="520.40" y2="1623.70" stroke="#222" stroke-width="2.20" stroke-linecap="butt"/>
<rect x="481.40" y="1663.70" width="20.00" height="65.30" fill="#ff0000" stroke="#222" stroke-width="1.40"/>
<rect x="505.40" y="1630.50" width="20.00" height="98.50" fill="#00f000" stroke="#222" stroke-width="1.40"/>
<text transform="translate(452.86 1776.90) scale(0.7519 1)" style='font-family:"Liberation Sans", sans-serif;font-weight:normal;font-size:27.45px;letter-spacing:3.29px' fill="#000" stroke="#000" stroke-width="0.90" vector-effect="non-scaling-stroke">kidney</text>
<line x1="582.20" y1="1729.00" x2="582.20" y2="1737.00" stroke="#000" stroke-width="2.20" stroke-linecap="butt"/>
<line x1="582.20" y1="1380.70" x2="582.20" y2="1383.00" stroke="#222" stroke-width="2.20" stroke-linecap="butt"/>
<line x1="577.20" y1="1380.70" x2="587.20" y2="1380.70" stroke="#222" stroke-width="2.20" stroke-linecap="butt"/>
<line x1="606.20" y1="1326.50" x2="606.20" y2="1327.40" stroke="#222" stroke-width="2.20" stroke-linecap="butt"/>
<line x1="601.20" y1="1326.50" x2="611.20" y2="1326.50" stroke="#222" stroke-width="2.20" stroke-linecap="butt"/>
<rect x="549.20" y="1722.50" width="17" height="9.50" rx="3" fill="#000"/>
<rect x="572.20" y="1383.00" width="20.00" height="346.00" fill="#ff0000" stroke="#222" stroke-width="1.40"/>
<rect x="596.20" y="1327.40" width="20.00" height="401.60" fill="#00f000" stroke="#222" stroke-width="1.40"/>
<text transform="translate(544.89 1776.60) scale(0.6968 1)" style='font-family:"Liberation Sans", sans-serif;font-weight:normal;font-size:29.28px;letter-spacing:3.51px' fill="#000" stroke="#000" stroke-width="0.90" vector-effect="non-scaling-stroke">Tum</text>
<text transform="translate(595.62 1776.60) scale(0.7669 1)" style='font-family:"Liberation Sans", sans-serif;font-weight:normal;font-size:28.79px;letter-spacing:3.45px' fill="#000" stroke="#000" stroke-width="0.90" vector-effect="non-scaling-stroke">or</text>
<text transform="translate(352.99 1833.00) scale(0.7003 1)" style='font-family:"Liberation Sans", sans-serif;font-weight:bold;font-size:36.23px;letter-spacing:5.80px' fill="#000">Organ</text>
<rect x="146.70" y="1270.40" width="157.10" height="110.50" fill="#fff" stroke="#333" stroke-width="1.30"/>
<rect x="156.90" y="1291.00" width="43.20" height="13.70" fill="#000" stroke="#222" stroke-width="1.20"/>
<text transform="translate(208.89 1304.70) scale(0.6871 1)" style='font-family:"Liberation Sans", sans-serif;font-weight:bold;font-size:22.03px;letter-spacing:3.30px' fill="#000">Control</text>
<rect x="156.90" y="1318.80" width="43.20" height="13.70" fill="#ff0000" stroke="#222" stroke-width="1.20"/>
<text transform="translate(208.51 1332.70) scale(0.6939 1)" style='font-family:"Liberation Sans", sans-serif;font-weight:bold;font-size:22.03px;letter-spacing:3.30px' fill="#000">EcN</text>
<rect x="156.90" y="1346.90" width="43.20" height="14.40" fill="#00f000" stroke="#222" stroke-width="1.20"/>
<text transform="translate(208.54 1360.50) scale(0.6720 1)" style='font-family:"Liberation Sans", sans-serif;font-weight:bold;font-size:22.03px;letter-spacing:3.30px' fill="#000">EcN</text>
<text transform="translate(246.05 1360.50) scale(0.6879 1)" style='font-family:"Liberation Sans", sans-serif;font-weight:bold;font-size:22.03px;letter-spacing:3.30px' fill="#000">-BUT</text>
</svg></body></html>
